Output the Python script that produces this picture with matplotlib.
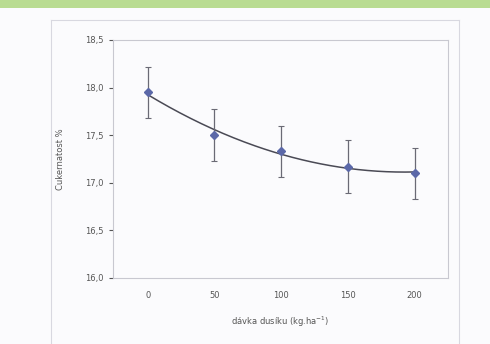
import matplotlib
matplotlib.use("Agg")
import matplotlib.pyplot as plt
import numpy as np
from matplotlib.patches import Rectangle
from matplotlib.lines import Line2D

doses = [0, 50, 100, 150, 200]
sugar = [17.95, 17.50, 17.33, 17.17, 17.10]
err = [0.27, 0.27, 0.27, 0.28, 0.27]
yticks = [16.0, 16.5, 17.0, 17.5, 18.0, 18.5]
ytick_labels = ["16,0", "16,5", "17,0", "17,5", "18,0", "18,5"]
xticks = [0, 50, 100, 150, 200]

plt.rcParams['font.family'] = ['DejaVu Sans']

W, H = 490, 344
fig = plt.figure(figsize=(W/100, H/100), dpi=100)
fig.patch.set_facecolor("#fbfbfd")

# green strip on top
fig.patches.append(Rectangle((0, 1 - 8/H), 1, 8/H, transform=fig.transFigure,
                             facecolor="#b9dc92", edgecolor="none", zorder=0))
# light chart frame (open at the bottom)
fx0, fx1, fy0 = 51/W, 459/W, 1 - 20/H
for xs_, ys_ in [([fx0, fx0], [0, fy0]), ([fx0, fx1], [fy0, fy0]), ([fx1, fx1], [fy0, 0])]:
    fig.lines.append(Line2D(xs_, ys_, transform=fig.transFigure, color="#d8d8e0", lw=0.8))

left, right, top, bottom = 113, 448, 40, 278
ax = fig.add_axes([left/W, 1 - bottom/H, (right-left)/W, (bottom-top)/H])
ax.set_facecolor("#fbfbfd")

x = np.array(doses, dtype=float)
y = np.array(sugar)
coef = np.polyfit(x, y, 2)
xs = np.linspace(0, 200, 200)
ax.plot(xs, np.polyval(coef, xs), color="#4a4a55", lw=1.1, zorder=2)
ax.errorbar(x, y, yerr=err, fmt="none", ecolor="#6a6a75", elinewidth=0.9,
            capsize=2.5, capthick=0.8, zorder=3)
ax.plot(x, y, "D", color="#5b68a8", ms=4, zorder=4)

ax.set_xlim(-26, 225)
ax.set_ylim(16.0, 18.5)
ax.set_xticks(xticks)
ax.set_xticklabels([str(v) for v in xticks])
ax.set_yticks(yticks)
ax.set_yticklabels(ytick_labels)

for s in ax.spines.values():
    s.set_color("#c8c8d0")
    s.set_linewidth(0.8)
ax.tick_params(axis="x", length=0, pad=9, labelsize=6, colors="#555555")
ax.tick_params(axis="y", length=3, direction="out", pad=4, labelsize=6, colors="#555555")
for t in ax.get_yticklines():
    t.set_color("#c8c8d0")

ax.set_xlabel("dávka dusíku (kg.ha$^{-1}$)", fontsize=6, color="#555555", labelpad=11)
ax.set_ylabel("Cukernatost %", fontsize=6, color="#555555", labelpad=14)

fig.savefig("out.png", dpi=100, facecolor=fig.get_facecolor())
